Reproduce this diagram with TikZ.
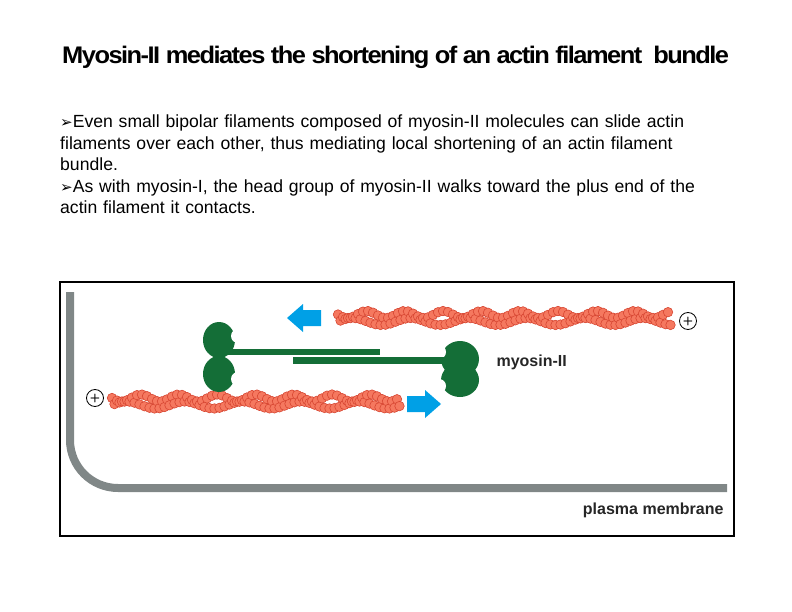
\documentclass[tikz,border=0pt]{standalone}
\usepackage{fontspec}
\setmainfont{Liberation Sans}
\newfontfamily\dvsans{DejaVu Sans}
\definecolor{myog}{RGB}{20,110,55}
\begin{document}
\begin{tikzpicture}[x=1pt,y=-1pt,
  bead/.style={circle,draw={rgb,255:red,215;green,70;blue,50},line width=0.6pt,fill={rgb,255:red,245;green,120;blue,95},inner sep=0pt,minimum size=9.5pt},
  blue arrow/.style={fill={rgb,255:red,0;green,160;blue,230},draw=none},
  plus/.style={circle,draw,line width=0.8pt,minimum size=17pt,inner sep=0pt,font=\sffamily\bfseries\large}]
\useasboundingbox (0,0) rectangle (792,612);
\node[anchor=west,font=\bfseries\fontsize{24}{26}\selectfont,xscale=1.06,inner sep=0pt] (title) at (62,57) {\addfontfeature{LetterSpace=-6}Myosin-II mediates the shortening of an actin filament\ \ bundle};
\node[anchor=north west,align=left,text width=700pt,font=\fontsize{17.6}{21.5}\selectfont,inner sep=0pt] (body) at (60,115)
 {{\dvsans\fontsize{15}{15}\selectfont ➢}Even small bipolar filaments composed of myosin-II molecules can slide actin\\ filaments over each other, thus mediating local shortening of an actin filament\\ bundle.\\
  {\dvsans\fontsize{15}{15}\selectfont ➢}As with myosin-I, the head group of myosin-II walks toward the plus end of the\\ actin filament it contacts.};
\node[draw,line width=1.8pt,minimum width=674pt,minimum height=254pt,anchor=north west,inner sep=0pt] (frame) at (59,281) {};
% membrane
\draw[line width=8pt,color={rgb,255:red,128;green,135;blue,135}] (70,292) -- (70,440) to[out=-90,in=180] (118,488) -- (727,488);
\node[anchor=east,font=\bfseries\fontsize{16}{18}\selectfont,color=black!85] (pm) at (727,510) {plasma membrane};
% actin
\foreach \i in {0,...,66}{
  \pgfmathsetmacro\xx{338+5*\i}
  \node[bead] at (\xx,{314.5+3.5*sin(\i*47)}) {};
  \node[bead] at (\xx+2.5,{321.5-3.5*sin(\i*31+15)}) {};
}
\foreach \i in {0,...,57}{
  \pgfmathsetmacro\xx{112+5*\i}
  \node[bead] at (\xx,{398+3.5*sin(\i*47)}) {};
  \node[bead] at (\xx+2.5,{405-3.5*sin(\i*31+15)}) {};
}
\node[plus] (p1) at (688,321) {+};
\node[plus] (p2) at (95,398) {+};
% arrows
\fill[blue arrow] (321,310) -- (303,310) -- (303,304) -- (287,318) -- (303,332) -- (303,326) -- (321,326) -- cycle;
\fill[blue arrow] (407,396) -- (425,396) -- (425,390) -- (441,404) -- (425,418) -- (425,412) -- (407,412) -- cycle;
% myosin heads
\fill[myog] (219,340) ellipse[x radius=16,y radius=18];
\fill[myog] (219,374) ellipse[x radius=16,y radius=18];
\fill[white] (238,336) circle[radius=7];
\fill[white] (238,379) circle[radius=7];
\fill[myog] (460,359) ellipse[x radius=19,y radius=18];
\fill[myog] (460,380) ellipse[x radius=19,y radius=17];
\fill[white] (439,352) circle[radius=7];
\fill[white] (439,386) circle[radius=7];
% rods
\fill[myog] (215,349) rectangle (380,355);
\fill[myog] (293,357) rectangle (465,364);
\node[anchor=west,font=\bfseries\fontsize{16}{18}\selectfont,color=black!85] (my) at (493,362) {myosin-II};
\end{tikzpicture}
\end{document}
